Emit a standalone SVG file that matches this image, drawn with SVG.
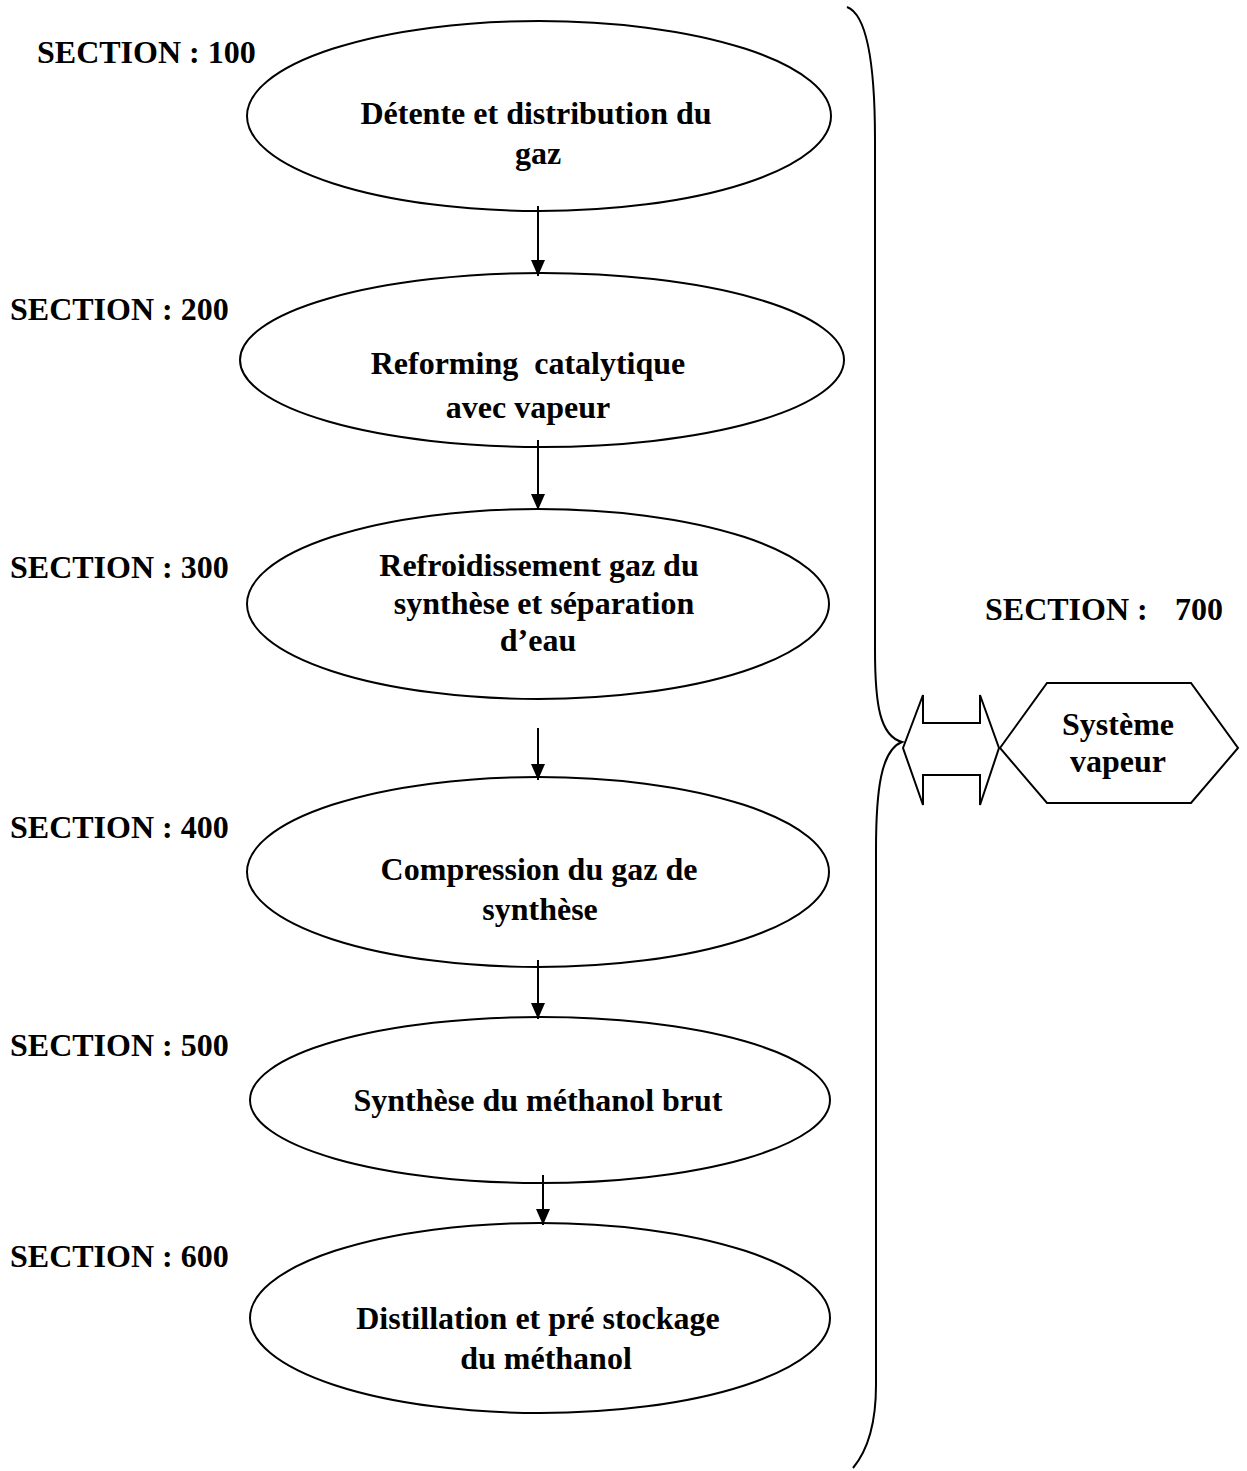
<svg xmlns="http://www.w3.org/2000/svg" width="1247" height="1471" viewBox="0 0 1247 1471">
  <style>
    .lbl { font-family: "Liberation Serif", "Times New Roman", serif; font-weight: bold; font-size: 32px; fill: #000; }
    .mid { text-anchor: middle; }
    .shape { fill: #fff; stroke: #000; stroke-width: 2; }
    .flow { stroke: #000; stroke-width: 2; fill: none; marker-end: url(#tip); }
    .brace { fill: none; stroke: #000; stroke-width: 2; }
  </style>
  <defs>
    <marker id="tip" viewBox="0 0 16 14" refX="16" refY="7" markerUnits="userSpaceOnUse" markerWidth="16" markerHeight="14" orient="auto">
      <path d="M0,0 L16,7 L0,14 Z" fill="#000"/>
    </marker>
  </defs>

  <rect width="1247" height="1471" fill="#fff"/>

  <!-- section labels -->
  <g id="section-labels">
    <text class="lbl" x="37" y="63">SECTION : 100</text>
    <text class="lbl" x="10" y="320">SECTION : 200</text>
    <text class="lbl" x="10" y="578">SECTION : 300</text>
    <text class="lbl" x="10" y="838">SECTION : 400</text>
    <text class="lbl" x="10" y="1056">SECTION : 500</text>
    <text class="lbl" x="10" y="1267">SECTION : 600</text>
    <text class="lbl" x="985" y="620">SECTION :</text>
    <text class="lbl" x="1175" y="620">700</text>
  </g>

  <!-- process steps -->
  <g id="s100">
    <ellipse class="shape" cx="539" cy="116" rx="292" ry="95"/>
    <text class="lbl mid" x="536" y="124">Détente et distribution du</text>
    <text class="lbl mid" x="538" y="164">gaz</text>
  </g>
  <g id="s200">
    <ellipse class="shape" cx="542" cy="360" rx="302" ry="87"/>
    <text class="lbl mid" x="528" y="374" xml:space="preserve">Reforming  catalytique</text>
    <text class="lbl mid" x="528" y="418">avec vapeur</text>
  </g>
  <g id="s300">
    <ellipse class="shape" cx="538" cy="604" rx="291" ry="95"/>
    <text class="lbl mid" x="539" y="576">Refroidissement gaz du</text>
    <text class="lbl mid" x="544" y="614">synthèse et séparation</text>
    <text class="lbl mid" x="538" y="651">d’eau</text>
  </g>
  <g id="s400">
    <ellipse class="shape" cx="538" cy="872" rx="291" ry="95"/>
    <text class="lbl mid" x="539" y="880">Compression du gaz de</text>
    <text class="lbl mid" x="540" y="920">synthèse</text>
  </g>
  <g id="s500">
    <ellipse class="shape" cx="540" cy="1100" rx="290" ry="83"/>
    <text class="lbl mid" x="538" y="1111">Synthèse du méthanol brut</text>
  </g>
  <g id="s600">
    <ellipse class="shape" cx="540" cy="1318" rx="290" ry="95"/>
    <text class="lbl mid" x="538" y="1329">Distillation et pré stockage</text>
    <text class="lbl mid" x="546" y="1369">du méthanol</text>
  </g>

  <!-- steam system -->
  <g id="s700">
    <polygon class="shape" points="1000,748 1047,683 1191,683 1238,748 1191,803 1047,803"/>
    <text class="lbl mid" x="1118" y="735">Système</text>
    <text class="lbl mid" x="1118" y="772">vapeur</text>
  </g>

  <!-- connectors -->
  <g id="connectors">
    <line class="flow" x1="538" y1="206" x2="538" y2="276"/>
    <line class="flow" x1="538" y1="440" x2="538" y2="510"/>
    <line class="flow" x1="538" y1="728" x2="538" y2="780"/>
    <line class="flow" x1="538" y1="960" x2="538" y2="1019"/>
    <line class="flow" x1="543" y1="1175" x2="543" y2="1225"/>
    <polygon class="shape" points="903,748 923,695 923,723 980,723 980,695 999,748 980,805 980,775 923,775 923,805"/>
    <path class="brace" d="M847,7 C866,14 875,60 875,140 L875,650 C875,705 880,736 902,742 C881,750 876,790 876,850 L876,1385 C876,1425 868,1450 853,1468"/>
  </g>
</svg>
